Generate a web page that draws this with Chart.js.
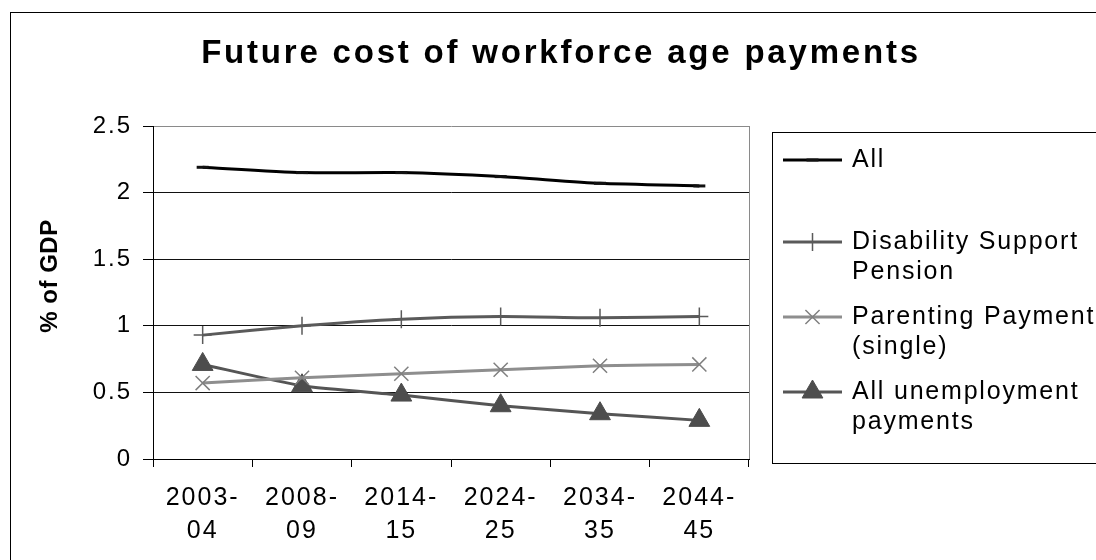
<!DOCTYPE html>
<html lang="en">
  <head>
    <meta charset="utf-8" />
    <title>Future cost of workforce age payments</title>
    <script src="https://cdn.jsdelivr.net/npm/chart.js"></script>
    <style>
      body { margin: 0; background: #fff; }
      canvas { display: block; }
    </style>
  </head>
  <body>
    <canvas id="costChart" width="1096" height="560"></canvas>
    <script>
      // periods on the x axis (two-line labels)
      const periods = [
        ['2003-', '04'],
        ['2008-', '09'],
        ['2014-', '15'],
        ['2024-', '25'],
        ['2034-', '35'],
        ['2044-', '45'],
      ]

      // % of GDP for each series
      const allPayments = [2.19, 2.15, 2.15, 2.12, 2.07, 2.05]
      const disabilitySupport = [0.93, 1.0, 1.05, 1.07, 1.06, 1.07]
      const parentingSingle = [0.57, 0.61, 0.64, 0.67, 0.7, 0.71]
      const unemployment = [0.71, 0.55, 0.48, 0.4, 0.34, 0.29]

      const seriesNames = [
        ['All'],
        ['Disability Support', 'Pension'],
        ['Parenting Payment', '(single)'],
        ['All unemployment', 'payments'],
      ]

      const yTicks = [0, 0.5, 1, 1.5, 2, 2.5]

      const chartTitle = 'Future cost of workforce age payments'
      const yTitle = '% of GDP'

      const FONT = '"Liberation Sans", Arial, sans-serif'

      // the text in this chart is set a little loose, like the old office charts
      const looseText = {
        id: 'looseText',
        beforeLayout(chart) { chart.ctx.letterSpacing = '2px' },
        beforeDraw(chart) { chart.ctx.letterSpacing = '2px' },
      }

      // outer frame, plot border, title and y axis title
      const frame = {
        id: 'frame',
        beforeDraw(chart) {
          const ctx = chart.ctx
          ctx.save()
          ctx.fillStyle = '#fff'
          ctx.fillRect(0, 0, chart.width, chart.height)
          ctx.strokeStyle = '#000'
          ctx.lineWidth = 1
          ctx.strokeRect(10.5, 12.5, chart.width + 20, chart.height + 20)
          ctx.restore()
        },
        beforeDatasetsDraw(chart) {
          const { ctx, chartArea } = chart
          ctx.save()
          ctx.strokeStyle = '#8a8a8a'
          ctx.lineWidth = 1
          ctx.beginPath()
          ctx.moveTo(Math.round(chartArea.right) + 0.5, chartArea.top)
          ctx.lineTo(Math.round(chartArea.right) + 0.5, chartArea.bottom)
          ctx.stroke()
          ctx.restore()
        },
        afterDraw(chart) {
          const ctx = chart.ctx
          ctx.save()
          ctx.fillStyle = '#000'
          ctx.font = 'bold 33px ' + FONT
          ctx.letterSpacing = '2.8px'
          ctx.textAlign = 'center'
          ctx.textBaseline = 'alphabetic'
          ctx.fillText(chartTitle, 561, 63)

          ctx.font = 'bold 24px ' + FONT
          ctx.letterSpacing = '0.5px'
          ctx.translate(57, 276)
          ctx.rotate(-Math.PI / 2)
          ctx.fillText(yTitle, 0, 0)
          ctx.restore()
        },
      }

      // legend box on the right, one row per dataset
      const sideLegend = {
        id: 'sideLegend',
        afterDraw(chart) {
          const ctx = chart.ctx
          const rowY = [160, 242, 317, 392]
          ctx.save()
          ctx.strokeStyle = '#000'
          ctx.lineWidth = 1
          ctx.strokeRect(772.5, 132.5, 400, 331)

          chart.data.datasets.forEach((ds, i) => {
            const y = rowY[i]
            ctx.strokeStyle = ds.borderColor
            ctx.lineWidth = ds.borderWidth
            ctx.beginPath()
            ctx.moveTo(783, y)
            ctx.lineTo(842, y)
            ctx.stroke()

            ctx.strokeStyle = ds.pointBorderColor || ds.borderColor
            ctx.fillStyle = ds.pointBackgroundColor || ds.borderColor
            ctx.lineWidth = ds.pointBorderWidth
            Chart.helpers.drawPoint(ctx, {
              pointStyle: ds.pointStyle,
              radius: ds.pointRadius,
              borderWidth: ds.pointBorderWidth,
              rotation: 0,
            }, 812.5, y)

            ctx.fillStyle = '#000'
            ctx.font = '25px ' + FONT
            ctx.letterSpacing = '1.8px'
            ctx.textAlign = 'left'
            ctx.textBaseline = 'middle'
            ds.label.forEach((line, k) => {
              ctx.fillText(line, 852, y + k * 30)
            })
          })
          ctx.restore()
        },
      }

      const data = {
        labels: periods,
        datasets: [
          {
            label: seriesNames[0],
            data: allPayments,
            borderColor: '#000',
            borderWidth: 3,
            pointStyle: 'line',
            pointRadius: 6,
            pointBorderWidth: 3,
            pointBorderColor: '#111',
            pointBackgroundColor: '#111',
          },
          {
            label: seriesNames[1],
            data: disabilitySupport,
            borderColor: '#5a5a5a',
            borderWidth: 3,
            pointStyle: 'cross',
            pointRadius: 9,
            pointBorderWidth: 1.5,
            pointBorderColor: '#5a5a5a',
            pointBackgroundColor: '#5a5a5a',
          },
          {
            label: seriesNames[2],
            data: parentingSingle,
            borderColor: '#8e8e8e',
            borderWidth: 3,
            pointStyle: 'crossRot',
            pointRadius: 10,
            pointBorderWidth: 1.5,
            pointBorderColor: '#808080',
            pointBackgroundColor: '#808080',
          },
          {
            label: seriesNames[3],
            data: unemployment,
            borderColor: '#555',
            borderWidth: 3,
            pointStyle: 'triangle',
            pointRadius: 12,
            pointBorderWidth: 1,
            pointBorderColor: '#4d4d4d',
            pointBackgroundColor: '#4d4d4d',
          },
        ],
      }

      const config = {
        type: 'line',
        data: data,
        options: {
          responsive: false,
          animation: false,
          layout: {
            padding: { left: 0, top: 126, right: 347, bottom: 0 },
          },
          elements: {
            line: { tension: 0.2, fill: false },
          },
          plugins: {
            legend: { display: false },
            title: { display: false },
            tooltip: { enabled: false },
          },
          scales: {
            x: {
              type: 'category',
              offset: true,
              afterFit: (scale) => { scale.height = 101 },
              grid: {
                offset: true,
                drawOnChartArea: false,
                tickColor: '#000',
                tickLength: 8,
                lineWidth: 1,
              },
              border: { color: '#000', width: 1 },
              ticks: {
                color: '#000',
                font: { family: FONT, size: 25, lineHeight: 1.32 },
                padding: 15,
                maxRotation: 0,
                autoSkip: false,
              },
            },
            y: {
              min: yTicks[0],
              max: yTicks[yTicks.length - 1],
              afterFit: (scale) => { scale.width = 153 },
              afterBuildTicks: (scale) => {
                scale.ticks = yTicks.map((v) => ({ value: v }))
              },
              grid: {
                color: (ctx) => (ctx.tick && ctx.tick.value === 2.5 ? '#8a8a8a' : '#111'),
                tickColor: '#000',
                tickLength: 10,
                lineWidth: 1,
              },
              border: { color: '#000', width: 1 },
              ticks: {
                color: '#000',
                font: { family: FONT, size: 24 },
                padding: 11,
                callback: (value) => String(value),
              },
            },
          },
        },
        plugins: [looseText, frame, sideLegend],
      }

      const costChart = new Chart(document.getElementById('costChart'), config)
    </script>
  </body>
</html>
